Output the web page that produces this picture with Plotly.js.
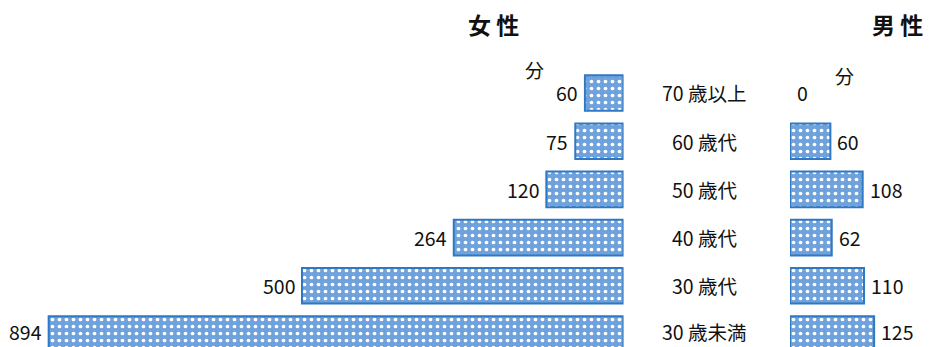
<!DOCTYPE html>
<html>
<head>
<meta charset="utf-8">
<script src="https://cdn.plot.ly/plotly-3.0.1.min.js"></script>
<style>html,body{margin:0;padding:0;background:#fff;}#chart{width:933px;height:347px;}</style>
</head>
<body>
<div id="chart"></div>
<script>
const categories = ["30 歳未満", "30 歳代", "40 歳代", "50 歳代", "60 歳代", "70 歳以上"];
const womenValues = [894, 500, 264, 120, 75, 60];
const menValues = [125, 110, 62, 108, 60, 0];
const womenTitle = "女 性";
const menTitle = "男 性";
const unitLabel = "分";

const FONT = '"Noto Sans CJK JP", "Noto Sans", sans-serif';
const BLUE = "#2f78c4";
function marker(vals) {
  return {
    color: "#7aaae0",
    line: {color: BLUE, width: vals.map(v => v > 0 ? 2 : 0)},
    pattern: {shape: ".", fgcolor: "#ffffff", bgcolor: "#6fa2dc", size: 7, solidity: 0.22}
  };
}

const traces = [
  {type: "bar", orientation: "h", x: womenValues, y: categories, xaxis: "x", yaxis: "y",
   marker: marker(womenValues), hoverinfo: "none"},
  {type: "bar", orientation: "h", x: menValues, y: categories, xaxis: "x2", yaxis: "y",
   marker: marker(menValues), hoverinfo: "none"}
];

const txtFont = {family: FONT, size: 19.5, color: "#111"};
const annotations = [];
categories.forEach((c, i) => {
  const ys = i === 0 ? 3 : 0;
  annotations.push({text: c, x: 0.7556, xref: "paper", y: c, yref: "y", showarrow: false,
    xanchor: "center", yanchor: "middle", yshift: ys, borderpad: 0, font: txtFont});
  annotations.push({text: String(womenValues[i]), x: womenValues[i], xref: "x", y: c, yref: "y",
    showarrow: false, xanchor: "right", yanchor: "middle", xshift: -6, yshift: ys, borderpad: 0, font: txtFont});
  annotations.push({text: String(menValues[i]), x: menValues[i], xref: "x2", y: c, yref: "y",
    showarrow: false, xanchor: "left", yanchor: "middle", xshift: 6, yshift: ys, borderpad: 0, font: txtFont});
});
const W = 933, H = 347, T = 64, B = 0;
function paperAnn(text, px, py, size, bold) {
  return {text: text, x: px / W, y: 1 - (py - T) / (H - T - B), xref: "paper", yref: "paper",
    showarrow: false, xanchor: "center", yanchor: "middle",
    font: {family: FONT, size: size, color: "#111", weight: bold ? "bold" : "normal"}};
}
annotations.push(
  paperAnn(womenTitle, 494, 24, 23, true),
  paperAnn(menTitle, 897, 24, 23, true),
  paperAnn(unitLabel, 534, 69, 19, false),
  paperAnn(unitLabel, 844, 75, 19, false)
);

const layout = {
  width: W, height: H,
  margin: {l: 0, r: 0, t: T, b: B, pad: 0},
  paper_bgcolor: "#fff", plot_bgcolor: "#fff",
  showlegend: false,
  bargap: 0.263,
  font: {family: FONT},
  xaxis: {domain: [0, 623.5 / W], range: [969.7, 0], showgrid: false, zeroline: false,
          showticklabels: false, ticks: "", fixedrange: true},
  xaxis2: {domain: [790 / W, 1], range: [0, 212.5], showgrid: false, zeroline: false,
           showticklabels: false, ticks: "", fixedrange: true},
  yaxis: {type: "category", categoryorder: "array", categoryarray: categories,
          range: [-0.268, 5.6], showgrid: false, zeroline: false, showticklabels: false,
          ticks: "", fixedrange: true},
  annotations: annotations
};

Plotly.newPlot("chart", traces, layout, {staticPlot: true, displayModeBar: false});
</script>
</body>
</html>
